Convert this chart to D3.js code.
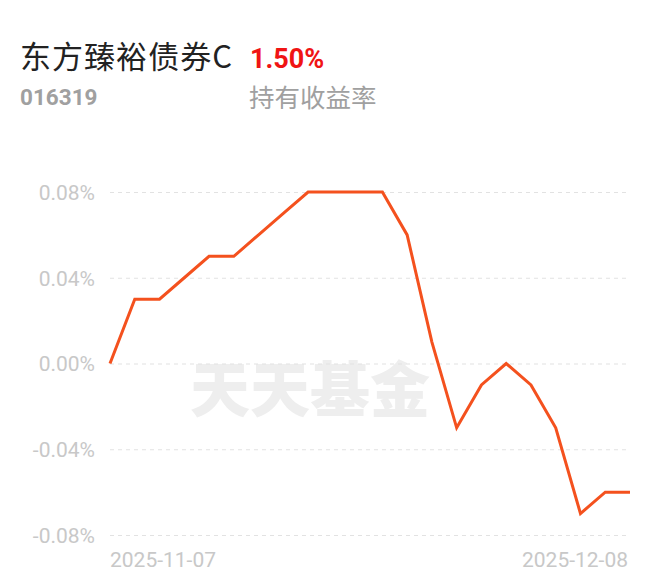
<!DOCTYPE html>
<html><head><meta charset="utf-8">
<script src="https://cdn.jsdelivr.net/npm/d3@7"></script>
<style>body{margin:0;background:#fff;}svg{display:block;}</style>
</head><body>
<svg id="c" width="660" height="585"></svg>
<script>
const dates = ["2025-11-07","2025-11-10","2025-11-11","2025-11-12","2025-11-13","2025-11-14","2025-11-17","2025-11-18","2025-11-19","2025-11-20","2025-11-21","2025-11-24","2025-11-25","2025-11-26","2025-11-27","2025-11-28","2025-12-01","2025-12-02","2025-12-03","2025-12-04","2025-12-05","2025-12-08"];
const values = [0.00,0.03,0.03,0.04,0.05,0.05,0.06,0.07,0.08,0.08,0.08,0.08,0.06,0.01,-0.03,-0.01,0.00,-0.01,-0.03,-0.07,-0.06,-0.06];
const yTicks = [0.08,0.04,0.00,-0.04,-0.08];
const xTickLabels = ["2025-11-07","2025-12-08"];
const fundName = "东方臻裕债券C";
const fundCode = "016319";
const rateText = "1.50%";
const rateLabel = "持有收益率";

const svg = d3.select("#c");
const font = "Roboto, 'Noto Sans CJK SC', sans-serif";
const x = d3.scalePoint().domain(dates).range([110, 630]);
const y = d3.scaleLinear().domain([-0.08, 0.08]).range([535, 192]);

// header
svg.append("text").attr("x",20).attr("y",68).attr("font-family","'Noto Sans CJK SC', sans-serif").attr("font-size",31).attr("fill","#222").attr("textLength",212).text(fundName);
svg.append("text").attr("x",250).attr("y",68).attr("font-family",font).attr("font-weight","bold").attr("font-size",27).attr("fill","#f01414").text(rateText);
svg.append("text").attr("x",20).attr("y",105).attr("font-family",font).attr("font-weight","bold").attr("font-size",22.5).attr("fill","#a0a0a0").text(fundCode);
svg.append("text").attr("x",249).attr("y",107).attr("font-family","'Noto Sans CJK SC', sans-serif").attr("font-size",25.5).attr("fill","#a0a0a0").text(rateLabel);

// watermark
svg.append("text").attr("x",310).attr("y",412).attr("text-anchor","middle").attr("font-family","'Noto Sans CJK SC', sans-serif").attr("font-weight","900").attr("font-size",60).attr("fill","#eeeeee").text("天天基金");

// grid
const yAxis = d3.axisLeft(y).tickValues(yTicks).tickSize(-(628-110)).tickPadding(15).tickFormat(d => d3.format(".2f")(d).replace("−","-") + "%");
const gy = svg.append("g").attr("transform","translate(110,0)").call(yAxis);
gy.select(".domain").remove();
gy.selectAll(".tick line").attr("stroke","#e2e2e2").attr("stroke-width",1.2).attr("stroke-dasharray","4,4");
gy.selectAll(".tick text").attr("font-family",font).attr("font-size",21).attr("fill","#c8c8c8").attr("dy","0.35em");

// x labels
const gx = svg.append("g");
gx.selectAll("text").data(xTickLabels).join("text")
  .attr("x", (d,i) => i===0 ? x(d) : x(d)-2)
  .attr("y", 567)
  .attr("text-anchor",(d,i)=> i===0 ? "start" : "end")
  .attr("font-family",font).attr("font-size",21).attr("fill","#c8c8c8").text(d=>d);

// line
const line = d3.line().x((d,i)=>x(dates[i])).y(d=>y(d));
svg.append("path").datum(values).attr("d",line).attr("fill","none").attr("stroke","#f4511e").attr("stroke-width",3).attr("stroke-linejoin","miter");
</script>
</body></html>
